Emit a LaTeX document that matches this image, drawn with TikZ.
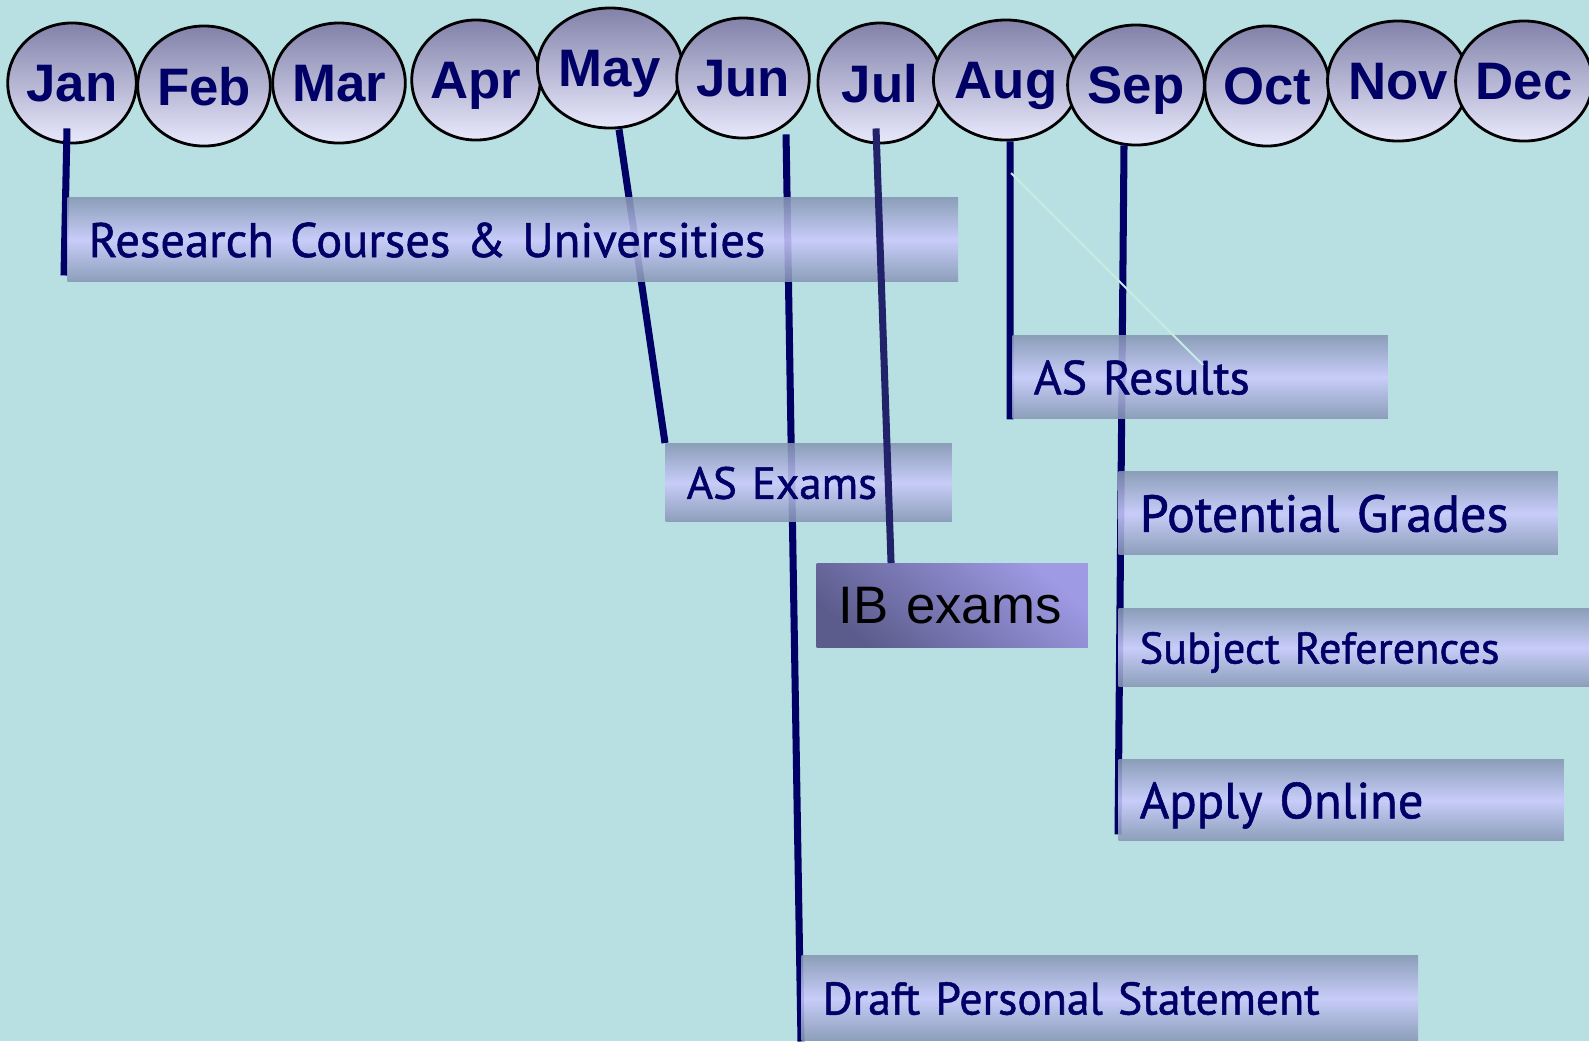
\documentclass[tikz,border=0pt]{standalone}
\usepackage{fontspec}
\setmainfont{PT Sans}
\newfontfamily\barfont{PT Sans}[FakeBold=1.1]
\newfontfamily\arialfont{Liberation Sans}
\usetikzlibrary{shapes.geometric}

\definecolor{sky}{RGB}{184,224,226}
\definecolor{ink}{RGB}{0,0,102}
\definecolor{inklight}{RGB}{34,34,106}
\definecolor{bargrey}{RGB}{134,150,180}
\definecolor{barlav}{RGB}{202,202,252}
\definecolor{balltop}{RGB}{130,130,170}
\definecolor{ballbot}{RGB}{232,232,252}
\definecolor{ibdark}{RGB}{92,92,140}
\definecolor{iblight}{RGB}{158,154,228}
\definecolor{glint}{RGB}{200,236,226}

\pgfdeclarelayer{front}
\pgfsetlayers{main,front}

\tikzset{
	month/.style={ellipse,draw=black,line width=0.8pt,top color=balltop,bottom color=ballbot,
		minimum width=1.24cm,minimum height=1.2cm,inner sep=0pt,text depth=0pt,
		text=ink,font=\arialfont\bfseries\fontsize{15}{18}\selectfont},
	bar/.style 2 args={rectangle,anchor=north west,inner sep=0pt,inner xsep=0.21cm,
		text width=#1,minimum height=#2,align=left,text depth=0pt,
		top color=bargrey,bottom color=bargrey,middle color=barlav,
		fill opacity=0.88,text opacity=1,text=ink},
	link/.style={draw=ink,line width=2pt},
}

\begin{document}
\begin{tikzpicture}[x=0.01cm,y=-0.01cm]
			\path[use as bounding box,fill=sky] (0,0) rectangle (1589,1041);
			% months
			\node[month](jan) at (72,83) {Jan};
			\node[month](feb) at (204,86) {Feb};
			\node[month](mar) at (339,83) {Mar};
			\node[month](apr) at (476,80) {Apr};
			\node[month](may) at (610,68) {May};
			\node[month](jun) at (743,78) {Jun};
			\node[month](jul) at (880,83) {Jul};
			\node[month](aug) at (1006,80) {Aug};
			\node[month](sep) at (1136,85) {Sep};
			\node[month](oct) at (1267,86) {Oct};
			\node[month](nov) at (1398,81) {Nov};
			\node[month](dec) at (1524,81) {Dec};
			% tasks
			\begin{pgfonlayer}{front}
			\node[bar={8.48cm}{0.84cm},font=\barfont\fontsize{13.8}{16}\selectfont](research) at (67,197) {Research Courses \& Universities};
			\node[bar={3.33cm}{0.83cm},font=\barfont\fontsize{13.6}{16}\selectfont](asres) at (1012,335) {AS Results};
			\node[bar={2.44cm}{0.78cm},font=\barfont\fontsize{12.8}{15}\selectfont](asexams) at (665,443) {AS Exams};
			\node[bar={3.97cm}{0.83cm},font=\barfont\fontsize{14.8}{18}\selectfont](potential) at (1118,471) {Potential Grades};
			\node[bar={4.29cm}{0.78cm},font=\barfont\fontsize{12.6}{15}\selectfont](subject) at (1118,608) {Subject References};
			\node[bar={4.03cm}{0.81cm},font=\barfont\fontsize{14.4}{17}\selectfont](apply) at (1118,759) {Apply Online};
			\node[bar={5.74cm}{0.85cm},font=\barfont\fontsize{13}{16}\selectfont](draft) at (801,955) {Draft Personal Statement};
			\node[rectangle,anchor=north west,inner sep=0pt,inner xsep=0.22cm,text width=2.27cm,
				minimum height=0.84cm,align=left,text depth=0pt,
				top color=iblight,bottom color=ibdark,shading angle=-40,
				font=\arialfont\fontsize{15}{18}\selectfont](ib) at (816,563) {IB exams};
			\end{pgfonlayer}
			\draw[link] ([xshift=-0.05cm,yshift=0.16cm]jan.south) -- ([xshift=-0.03cm,yshift=0.07cm]research.south west);
			\draw[link] ([xshift=0.09cm]may.south) -- (asexams.north west);
			\draw[link] ([xshift=0.43cm,yshift=0.05cm]jun.south) -- (draft.south west);
			\draw[link] ([xshift=0.04cm]aug.south) -- ([xshift=-0.02cm]asres.south west);
			\draw[link] ([xshift=-0.12cm,yshift=0.01cm]sep.south) -- ([yshift=0.07cm]apply.south west);
			\begin{pgfonlayer}{front}
			\draw[link,draw=inklight] ([xshift=-0.04cm,yshift=0.16cm]jul.south) -- ([xshift=0.75cm]ib.north west);
			\coordinate (glintA) at (1011,173);
			\coordinate (glintB) at (1203,365);
			\draw[glint,line width=0.6pt] (glintA) -- (glintB);
			\end{pgfonlayer}
\end{tikzpicture}
\end{document}
